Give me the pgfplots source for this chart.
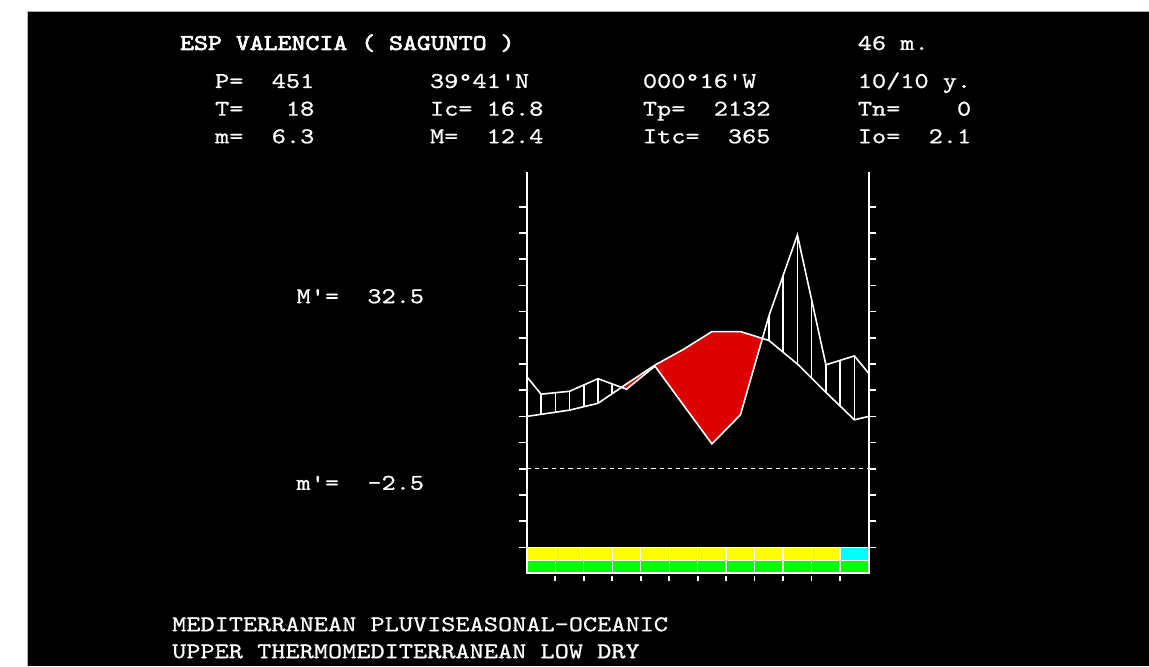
\documentclass[border=0pt]{standalone}
\usepackage{fontspec}
\usepackage{xcolor}
\usepackage{pgfplots}
\usepackage{pgfplotstable}
\pgfplotsset{compat=1.18}
\usepgfplotslibrary{fillbetween}
\newfontfamily\dos[FakeStretch=1.2,FakeBold=0.8]{lmmono10-regular.otf}
\newfontfamily\dosb[FakeStretch=1.18,FakeBold=2.8]{lmmono10-regular.otf}
\definecolor{dry}{RGB}{221,0,0}
\definecolor{yel}{RGB}{255,255,0}
\definecolor{cya}{RGB}{0,255,255}
\definecolor{grn}{RGB}{0,255,0}
\pagecolor{black}

% x: month position (0 and 12 = year edges), T in deg C, P in mm (plotted as P/2)
\pgfplotstableread{
x    T     P
0    10.0  35.2
0.5  10.4  28.5
1.5  11.2  29.6
2.5  12.5  34.4
3.5  16.2  30.4
4.5  19.8  39.2
5.5  22.8  24.3
6.5  26.2  9.5
7.5  26.2  20.6
8.5  24.5  58.4
9.5  20.0  89.3
10.5 14.6  39.7
11.5 9.35  43.1
12   10.0  36.5
}\clim

\begin{document}%
\begin{tikzpicture}[x=1pt,y=1pt]
\path (0pt,0pt) rectangle (1149pt,666pt);

\begin{axis}[
  at={(527pt,92.2pt)}, anchor=south west,
  scale only axis, width=342pt, height=401.8pt,
  xmin=0, xmax=12, ymin=-20, ymax=56.68,
  axis line style={draw=none},
  tick style={white, line width=1.6pt},
  major tick length=7.5pt,
  tick align=outside,
  xtick={1,...,11}, xticklabels={},
  xtick pos=left,
  ytick={-15,-10,...,50}, yticklabels={},
  ytick pos=both,
  extra x ticks={0.5,1,...,11.5},
  extra x tick labels={},
  extra x tick style={grid=major, major grid style={white, line width=1.5pt}, major tick length=0pt, tick style={draw=none}},
  clip=false,
]
% hatching (vertical lines) is kept only between the curves where P > 2T
\path[name path=top] (axis cs:0,58) -- (axis cs:12,58);
\path[name path=bot] (axis cs:0,-20.5) -- (axis cs:12,-20.5);
\addplot[draw=none, name path=T] table[x=x, y=T] {\clim};
\addplot[draw=none, name path=P] table[x=x, y expr=\thisrow{P}/2] {\clim};
\addplot[black] fill between[of=P and top];
\addplot[black] fill between[of=T and bot];
% dry period
\addplot[draw=none, fill=none] fill between[of=T and P, split,
  every segment no 0/.style={fill=none},
  every segment no 1/.style={fill=dry},
  every segment no 2/.style={fill=none},
];

% month boxes
\addplot[fill=yel, draw=none] coordinates {(0,-15) (11,-15) (11,-17.55) (0,-17.55)} -- cycle;
\addplot[fill=cya, draw=none] coordinates {(11,-15) (12,-15) (12,-17.55) (11,-17.55)} -- cycle;
\addplot[fill=grn, draw=none] coordinates {(0,-17.55) (12,-17.55) (12,-19.9) (0,-19.9)} -- cycle;
\pgfplotsinvokeforeach{1,...,11}{\draw[white, line width=1.4pt] (axis cs:#1,-15) -- (axis cs:#1,-19.9);}
\draw[white, line width=1.4pt] (axis cs:0,-15) -- (axis cs:12,-15);
\draw[white, line width=1.4pt] (axis cs:0,-17.55) -- (axis cs:12,-17.55);
\draw[white, line width=1.4pt] (axis cs:0,-19.9) -- (axis cs:12,-19.9);

% zero line
\draw[white, line width=1.4pt, dash pattern=on 4.3pt off 4pt] (axis cs:0,0) -- (axis cs:12,0);

% curves
\addplot[white, line width=1.6pt] table[x=x, y=T] {\clim};
\addplot[white, line width=1.6pt] table[x=x, y expr=\thisrow{P}/2] {\clim};

% side lines
\draw[white, line width=2pt] (rel axis cs:0,0) -- (rel axis cs:0,1);
\draw[white, line width=2pt] (rel axis cs:1,0) -- (rel axis cs:1,1);
\end{axis}

\begin{scope}[every node/.style={anchor=base west, inner sep=0pt, text=white, font=\fontsize{22.5}{27}\dos}]
\node[font=\fontsize{22.5}{27}\dosb] at (180pt,616pt) {ESP VALENCIA ( SAGUNTO )};
\node at (858pt,616pt) {46~m.};
\node at (215pt,578pt) {P=~~451};
\node at (430pt,578pt) {39°41'N};
\node at (643pt,578pt) {000°16'W};
\node at (858pt,578pt) {10/10~y.};
\node at (215pt,550.3pt) {T=~~~18};
\node at (430pt,550.3pt) {Ic=~16.8};
\node at (643pt,550.3pt) {Tp=~~2132};
\node at (858pt,550.3pt) {Tn=~~~~0};
\node at (215pt,522.7pt) {m=~~6.3};
\node at (430pt,522.7pt) {M=~~12.4};
\node at (643pt,522.7pt) {Itc=~~365};
\node at (858pt,522.7pt) {Io=~~2.1};
\node at (296.5pt,362.7pt) {M'=~~32.5};
\node at (296.5pt,176pt) {m'=~~-2.5};
\node at (172pt,34.5pt) {MEDITERRANEAN PLUVISEASONAL-OCEANIC};
\node at (172pt,7.5pt) {UPPER THERMOMEDITERRANEAN LOW DRY};
\end{scope}

% white page margins
\fill[white] (0pt,0pt) rectangle (27pt,666pt);
\fill[white] (0pt,654.5pt) rectangle (1149pt,666pt);
\draw[gray!60, line width=1pt] (27.5pt,0pt) -- (27.5pt,654pt) -- (1149pt,654pt);
\end{tikzpicture}%
\end{document}
